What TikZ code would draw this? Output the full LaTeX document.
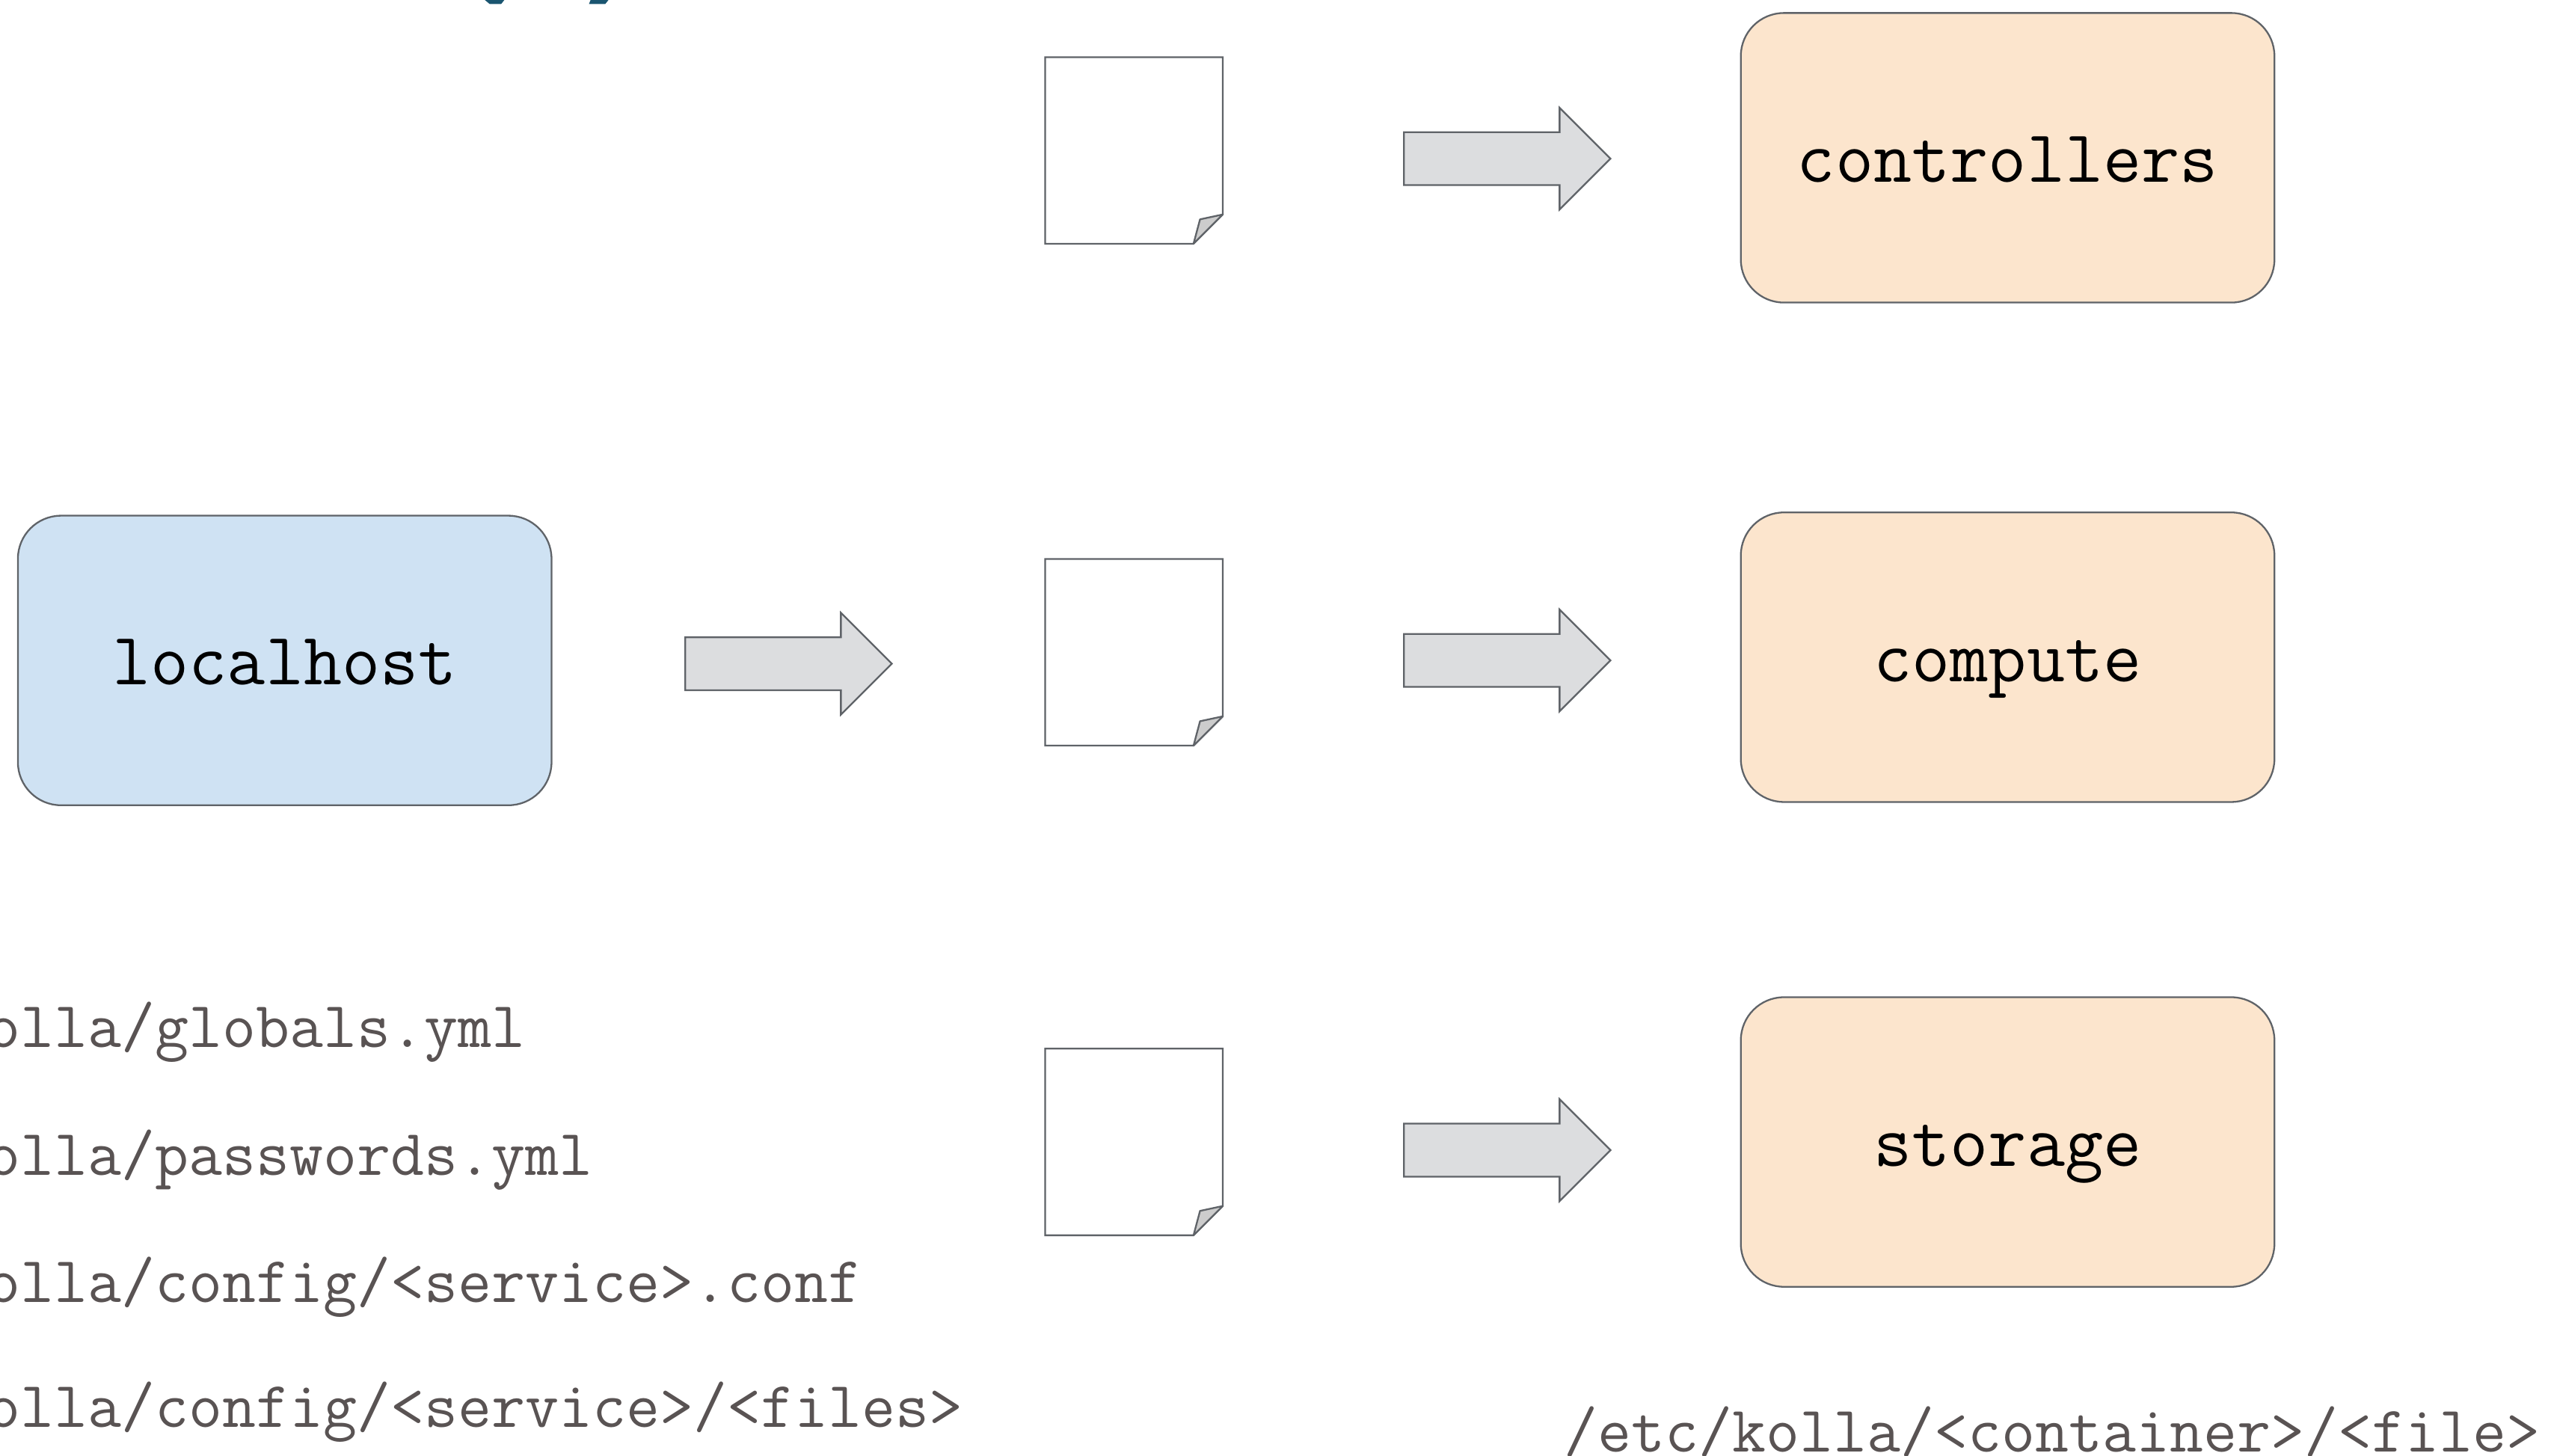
\documentclass[tikz,border=0pt]{standalone}
\usepackage{fontspec}
\usepackage{tikz}
\usetikzlibrary{shapes.arrows}

\definecolor{peach}{HTML}{FCE5CD}
\definecolor{skyblue}{HTML}{CFE2F3}
\definecolor{arrowgrey}{HTML}{DCDDDF}
\definecolor{edgegrey}{HTML}{5F6368}
\definecolor{foldgrey}{HTML}{CCCCCC}
\definecolor{pathgrey}{HTML}{595353}
\definecolor{titleteal}{HTML}{1A5570}

\tikzset{
  host/.style={draw=edgegrey, line width=0.6pt, rounded corners=0.53cm,
    minimum width=6.56cm, minimum height=3.56cm,
    font=\ttfamily\fontsize{26}{31}\selectfont, text height=0.6cm, text depth=0pt},
  srchost/.style={host, fill=skyblue},
  dsthost/.style={host, fill=peach},
  copyarrow/.style={single arrow, draw=edgegrey, fill=arrowgrey, line width=0.6pt,
    minimum height=2.54cm, single arrow head extend=0.3cm,
    inner xsep=0pt, inner ysep=0.315cm},
  doc/.style={minimum width=2.17cm, minimum height=2.28cm, inner sep=0pt},
  pathtext/.style={font=\ttfamily\fontsize{22.86}{27}\selectfont, text=pathgrey,
    anchor=base west, inner sep=0pt},
}

\begin{document}
\begin{tikzpicture}
		\clip (0,0) rectangle (31.36,17.9);
		% bits of the title cut off at the top
		\fill[titleteal] (5.96,17.9) -- (6.2,17.9) -- (6.16,17.85) -- (6.02,17.85) -- cycle;
		\fill[titleteal] (7.26,17.9) -- (7.48,17.9) -- (7.44,17.85) -- (7.24,17.85) -- cycle;

		\node[srchost] (localhost) at (3.5,9.78) {localhost};
		\node[dsthost] (controllers) at (24.68,15.96) {controllers};
		\node[dsthost] (compute) at (24.68,9.82) {compute};
		\node[dsthost] (storage) at (24.68,3.86) {storage};

		% config files
		\foreach \n/\y in {1/16.05,2/9.88,3/3.86} {
			\node[doc] (doc\n) at (13.94,\y) {};
			\draw[edgegrey, line width=0.6pt, fill=white] (doc\n.north west) -- (doc\n.north east)
				-- ([yshift=0.36cm]doc\n.south east) -- ([xshift=-0.36cm]doc\n.south east)
				-- (doc\n.south west) -- cycle;
			\filldraw[draw=edgegrey, fill=foldgrey, line width=0.6pt, line join=round]
				([xshift=-0.36cm]doc\n.south east) -- ([xshift=-0.28cm,yshift=0.3cm]doc\n.south east)
				-- ([yshift=0.36cm]doc\n.south east) -- cycle;
		}

		\node[copyarrow] (gen) at (9.53,9.74) {};
		\node[copyarrow] (tocontrollers) at (18.365,15.95) {};
		\node[copyarrow] (tocompute) at (18.365,9.78) {};
		\node[copyarrow] (tostorage) at (18.365,3.76) {};

		\node[pathtext] (globals) at (-2.65,5.02) {/etc/kolla/globals.yml};
		\node[pathtext] (passwords) at (-2.65,3.45) {/etc/kolla/passwords.yml};
		\node[pathtext] (svcconf) at (-2.65,1.89) {/etc/kolla/config/<service>.conf};
		\node[pathtext] (svcfiles) at (-2.65,0.35) {/etc/kolla/config/<service>/<files>};
		\node[pathtext] (target) at (19.22,0.05) {/etc/kolla/<container>/<file>};
	\end{tikzpicture}
\end{document}
